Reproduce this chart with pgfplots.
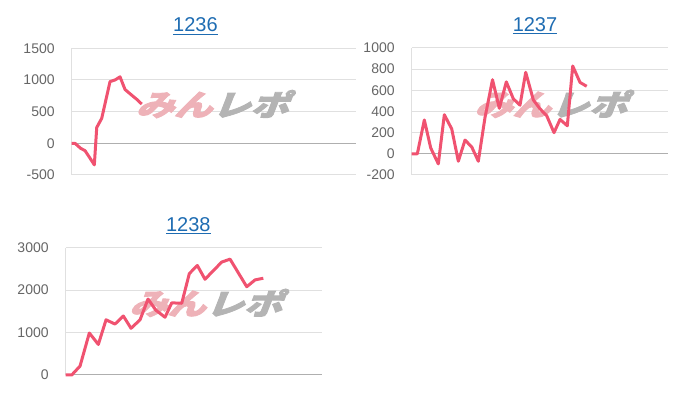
\documentclass[border=0pt]{standalone}
\usepackage{pgfplots}
\pgfplotsset{compat=1.18}
\usepackage{fontspec}
\setmainfont{Liberation Sans}
\newfontfamily\jpfont[FakeBold=3]{Noto Sans CJK JP}

\definecolor{linec}{RGB}{240, 82, 112}
\definecolor{gridc}{RGB}{224, 224, 224}
\definecolor{zeroc}{RGB}{175, 175, 175}
\definecolor{labc}{RGB}{102, 102, 102}
\definecolor{titlec}{RGB}{30, 108, 178}
\definecolor{logopink}{RGB}{238, 178, 184}
\definecolor{logogray}{RGB}{180, 180, 180}

\pgfplotsset{
  mini/.style={
    scale only axis,
    set layers,
    clip=false,
    axis y line=left,
    axis x line=none,
    axis line style={draw=gridc, line width=0.75pt, -},
    ymajorgrids=true,
    grid style={draw=gridc, line width=0.75pt},
    ytick style={draw=none},
    yticklabel style={font=\fontsize{10.5}{12}\selectfont, text=labc, anchor=east, inner sep=0pt, xshift=-10.5pt},
    /pgf/number format/assume math mode=true,
    extra y ticks={0},
    extra y tick labels={},
    extra y tick style={grid=major, grid style={draw=zeroc, line width=0.75pt}},
    xmin=0,
  },
  series/.style={line width=2.25pt, color=linec, line join=round, no markers},
}

\newcommand{\logo}[2]{%
  \begin{pgfonlayer}{pre main}
  \node[xscale=1.3, xslant=0.3, inner sep=0pt] at (rel axis cs:#1,#2)
    {\jpfont\bfseries\fontsize{22}{24}\selectfont\color{logopink}みん\color{logogray}レポ};
  \end{pgfonlayer}}
\newcommand{\charttitle}[2]{%
  \node[anchor=base, inner sep=0pt, text=titlec, font=\fontsize{15}{17}\selectfont, yshift=12.4pt]
    at (rel axis cs:#1,1) {\underline{#2}};}

\begin{document}
\begin{tikzpicture}
\path (0,0) rectangle (525pt,300pt);

% 1236
\begin{axis}[mini,
  at={(53.8pt,168.75pt)}, anchor=south west,
  width=213.2pt, height=95pt,
  xmax=284.3, ymin=-500, ymax=1500,
  ytick={-500,0,500,1000,1500},
  yticklabels={-500,0,500,1000,1500},
]
\logo{0.51}{0.56}
\addplot[series] coordinates {
  (0,0) (3.3,0) (9,-80) (13.3,-115) (18.3,-235) (22.6,-340) (25,250)
  (30,395) (38.3,975) (43.3,1000) (48.3,1050) (53.3,850) (60,760)
  (65,695) (70,620)
};
\charttitle{0.435}{1236}
\end{axis}

% 1237
\begin{axis}[mini,
  at={(308.8pt,168.75pt)}, anchor=south west,
  width=192.2pt, height=95.25pt,
  xmax=256.3, ymin=-200, ymax=1000,
  ytick={-200,0,200,400,600,800,1000},
  yticklabels={-200,0,200,400,600,800,1000},
]
\logo{0.56}{0.56}
\addplot[series] coordinates {
  (0,0) (5.6,0) (12.6,320) (19,55) (26.6,-95) (32.6,370) (40,235)
  (46.6,-70) (53.3,130) (60,65) (66.6,-70) (73.3,345) (80.8,700)
  (87.6,430) (94.6,680) (101.6,520) (108.3,460) (114,770) (121.6,510)
  (128.3,425) (135,360) (142.3,200) (148.3,325) (155.6,265) (161,830)
  (168.3,675) (175,638)
};
\charttitle{0.481}{1237}
\end{axis}

% 1238
\begin{axis}[mini,
  at={(49.3pt,18.75pt)}, anchor=south west,
  width=192pt, height=95.5pt,
  xmax=256, ymin=0, ymax=3000,
  ytick={0,1000,2000,3000},
  yticklabels={0,1000,2000,3000},
]
\logo{0.564}{0.566}
\addplot[series] coordinates {
  (0,0) (6,0) (14.3,210) (23.6,990) (32.6,720) (40.3,1300) (49.3,1200)
  (57.6,1390) (65.3,1100) (74.3,1300) (82.3,1790) (90,1530) (99.3,1360)
  (106,1700) (116,1690) (123.6,2390) (131.6,2580) (139.3,2255)
  (147.6,2460) (156,2660) (164.3,2730) (181,2080) (189.3,2240)
  (197.6,2280)
};
\charttitle{0.479}{1238}
\end{axis}
\end{tikzpicture}
\end{document}
